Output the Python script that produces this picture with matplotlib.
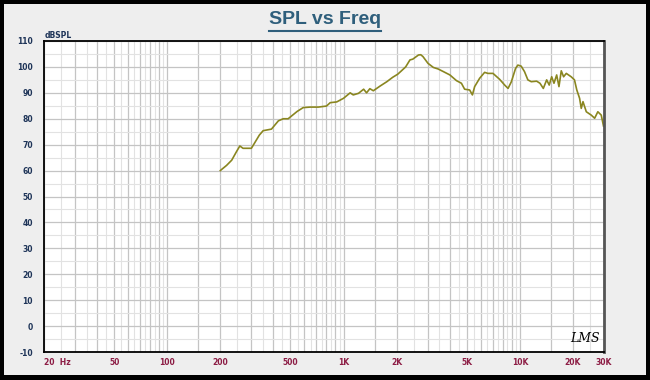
import numpy as np
import matplotlib
matplotlib.use("Agg")
import matplotlib.pyplot as plt
from matplotlib.patches import Rectangle
from matplotlib.lines import Line2D
from matplotlib.ticker import FixedLocator, NullFormatter

plt.rcParams["axes.unicode_minus"] = False

# frequency response (Hz, dB SPL)
freq = [200, 204, 217, 232, 247, 258, 269, 300, 312, 333,
        350, 390, 427, 455, 485, 545, 590, 645, 720, 800,
        840, 915, 1000, 1090, 1135, 1215, 1300, 1350, 1410, 1475,
        1610, 1760, 1900, 2030, 2130, 2250, 2380, 2470, 2660, 2740,
        2820, 3010, 3230, 3440, 3680, 4010, 4370, 4660, 4860, 5190,
        5380, 5540, 5910, 6310, 6590, 7040, 7680, 8200, 8570, 8950,
        9450, 9740, 10170, 10620, 11100, 11600, 12450, 13000, 13580, 14190,
        14670, 15150, 15610, 16170, 16660, 17170, 17700, 18330, 19540, 20400,
        21030, 21810, 22290, 22800, 23810, 25400, 26550, 27680, 28940, 29800]
spl = [60, 60.5, 62, 64, 67.3, 69.5, 68.6, 68.6, 70.5, 73.7,
       75.4, 76, 79.2, 80, 80, 82.8, 84.3, 84.5, 84.5, 84.9,
       86.2, 86.5, 87.9, 90, 89.2, 89.8, 91.4, 90, 91.6, 90.8,
       92.6, 94.3, 96, 97.2, 98.5, 100, 102.7, 103, 104.6, 104.7,
       104, 101.4, 99.8, 99.2, 98.2, 96.9, 94.7, 93.7, 91.4, 91.1,
       89.2, 92.4, 95.6, 97.9, 97.5, 97.5, 95.2, 93, 91.7, 94.3,
       99.4, 100.7, 100.3, 98.2, 95, 94.3, 94.5, 93.7, 91.7, 95,
       93, 96.2, 93.7, 96.9, 92.4, 98.5, 96.2, 97.5, 96.2, 95,
       91.1, 87.9, 84, 86.6, 82.7, 81.4, 80.2, 82.7, 81.4, 77.2]

xtick_vals = [20, 50, 100, 200, 500, 1000, 2000, 5000, 10000, 20000, 30000]
xtick_labels = ["20  Hz", "50", "100", "200", "500", "1K", "2K", "5K", "10K", "20K", "30K"]
ytick_vals = list(range(-10, 111, 10))

# LMS style grid: 1.5x, then 2x..10x in half steps for each decade
major_v, minor_v = [], []
for b in [10, 100, 1000, 10000]:
    if 1.5 * b >= 20:
        major_v.append(1.5 * b)
    for m in np.arange(2, 10.01, 0.5):
        f = m * b
        if 20 <= f <= 30000:
            (major_v if m == int(m) else minor_v).append(f)
major_v.append(30000)

fig = plt.figure(figsize=(6.5, 3.8), dpi=100)
fig.patch.set_facecolor("black")
fig.add_artist(Rectangle((4 / 650, 5 / 380), 642 / 650, 371 / 380,
                         transform=fig.transFigure, facecolor="#eeeeee",
                         edgecolor="none", zorder=0))

ax = fig.add_axes([44 / 650, 28 / 380, 560 / 650, 311 / 380])
ax.set_facecolor("white")
ax.set_xscale("log")
ax.set_xlim(20, 30000)
ax.set_ylim(-10, 110)

for f in minor_v:
    ax.axvline(f, color="#e2e2e2", lw=0.8, zorder=1)
for f in major_v:
    ax.axvline(f, color="#c4c4c4", lw=0.9, zorder=1)
for y in range(-5, 110, 10):
    ax.axhline(y, color="#e2e2e2", lw=0.8, zorder=1)
for y in ytick_vals:
    ax.axhline(y, color="#c4c4c4", lw=0.9, zorder=1)

ax.plot(freq, spl, color="#8a8620", lw=1.2, zorder=3)

ax.xaxis.set_major_locator(FixedLocator(xtick_vals))
ax.xaxis.set_minor_formatter(NullFormatter())
ax.xaxis.set_minor_locator(FixedLocator([]))
ax.set_xticklabels(xtick_labels)
ax.set_yticks(ytick_vals)
ax.tick_params(length=0)
ax.tick_params(axis="x", pad=4, labelsize=5.5, labelcolor="#8c1c44")
ax.tick_params(axis="y", pad=8, labelsize=5.5, labelcolor="#1e3458")
for lbl in ax.get_xticklabels() + ax.get_yticklabels():
    lbl.set_fontweight("bold")
ax.get_xticklabels()[0].set_horizontalalignment("left")

for s in ax.spines.values():
    s.set_color("black")
    s.set_linewidth(1.3)
    s.set_zorder(4)
ax.spines["right"].set_color("#555555")
ax.spines["right"].set_linewidth(2)

fig.text(45 / 650, 1 - 35 / 380, "dBSPL", fontsize=5.5, fontweight="bold",
         color="#1e3458", ha="left", va="center")
fig.text(585 / 650, 1 - 338 / 380, "LMS", fontsize=9, style="italic",
         color="black", ha="center", va="center", family="DejaVu Serif")

title = fig.text(0.5, 1 - 20 / 380, "SPL vs Freq", fontsize=14, fontweight="bold",
                 color="#2f5f7c", ha="center", va="center",
                 family=["Liberation Sans Narrow", "Liberation Sans", "DejaVu Sans"])
fig.canvas.draw()
bb = title.get_window_extent()
uy = (bb.y0 - 2) / fig.bbox.height
fig.add_artist(Line2D([bb.x0 / fig.bbox.width, bb.x1 / fig.bbox.width], [uy, uy],
                      transform=fig.transFigure, color="#2f5f7c", lw=1.5))

fig.savefig("out.png", dpi=100, facecolor=fig.get_facecolor())
